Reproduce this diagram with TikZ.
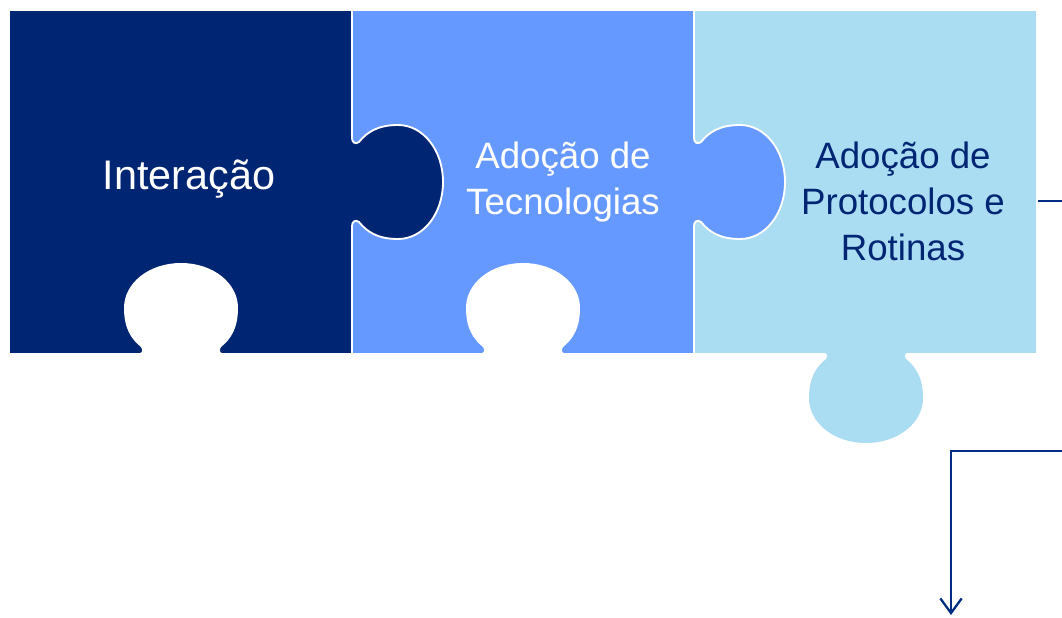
\documentclass[tikz,border=0pt]{standalone}
\usepackage{fontspec}
\setmainfont{Liberation Sans}
\usetikzlibrary{arrows.meta}
\definecolor{navy}{RGB}{0,37,115}
\definecolor{midblue}{RGB}{102,153,255}
\definecolor{lightblue}{RGB}{170,221,242}
\definecolor{linenavy}{RGB}{0,45,130}
\tikzset{
  tabshape/.style={insert path={(0,-44) .. controls (0,-40) and (3,-37) .. (7,-40)
     .. controls (15,-50) and (26,-57) .. (46,-57)
     .. controls (71,-57) and (91,-32) .. (91,0)
     .. controls (91,32) and (71,57) .. (46,57)
     .. controls (26,57) and (15,50) .. (7,40)
     .. controls (3,37) and (0,40) .. (0,44)}},
  seam/.style={draw=white, line width=1.4pt},
  bigtext/.style={font=\fontsize{31}{37}\selectfont, align=center},
  midtext/.style={font=\fontsize{27.5}{34.5}\selectfont, align=center},
  connector/.style={draw=linenavy, line width=1.7pt}
}
\begin{document}
\begin{tikzpicture}[x=0.75pt,y=-0.75pt]
\useasboundingbox (0,0) rectangle (1062,617);
% piece 3
\fill[lightblue] (694,11) rectangle (1036,353);
\begin{scope}[shift={(866,352)}, rotate=-90]
  \fill[lightblue, tabshape] -- cycle;
\end{scope}
% piece 2
\fill[midblue] (352,11) rectangle (694,353);
\draw[seam] (694,11) -- (694,138);
\draw[seam] (694,226) -- (694,353);
\begin{scope}[shift={(694,182)}]
  \fill[midblue, tabshape] -- cycle;
  \draw[seam, tabshape];
\end{scope}
\begin{scope}[shift={(523,354)}, rotate=90]
  \fill[white, tabshape] -- cycle;
\end{scope}
% piece 1
\fill[navy] (10,11) rectangle (352,353);
\draw[seam] (352,11) -- (352,138);
\draw[seam] (352,226) -- (352,353);
\begin{scope}[shift={(352,182)}]
  \fill[navy, tabshape] -- cycle;
  \draw[seam, tabshape];
\end{scope}
\begin{scope}[shift={(181,354)}, rotate=90]
  \fill[white, tabshape] -- cycle;
\end{scope}
% texts
\node[bigtext, text=white] (t1) at (189,179) {Interação};
\node[midtext, text=white] (t2) at (563,182) {Adoção de\\Tecnologias};
\node[midtext, text=navy] (t3) at (903,201) {Adoção de\\Protocolos e\\Rotinas};
% connectors
\coordinate (p3e) at (1038,201);
\coordinate (out1) at (1062,201);
\draw[connector] (p3e) -- (out1);
\coordinate (in2) at (1062,451);
\coordinate (bend) at (951,451);
\coordinate (down) at (951,615);
\draw[connector, -{Straight Barb[length=11pt,width=16pt]}] (in2) -- (bend) -- (down);
\end{tikzpicture}
\end{document}
